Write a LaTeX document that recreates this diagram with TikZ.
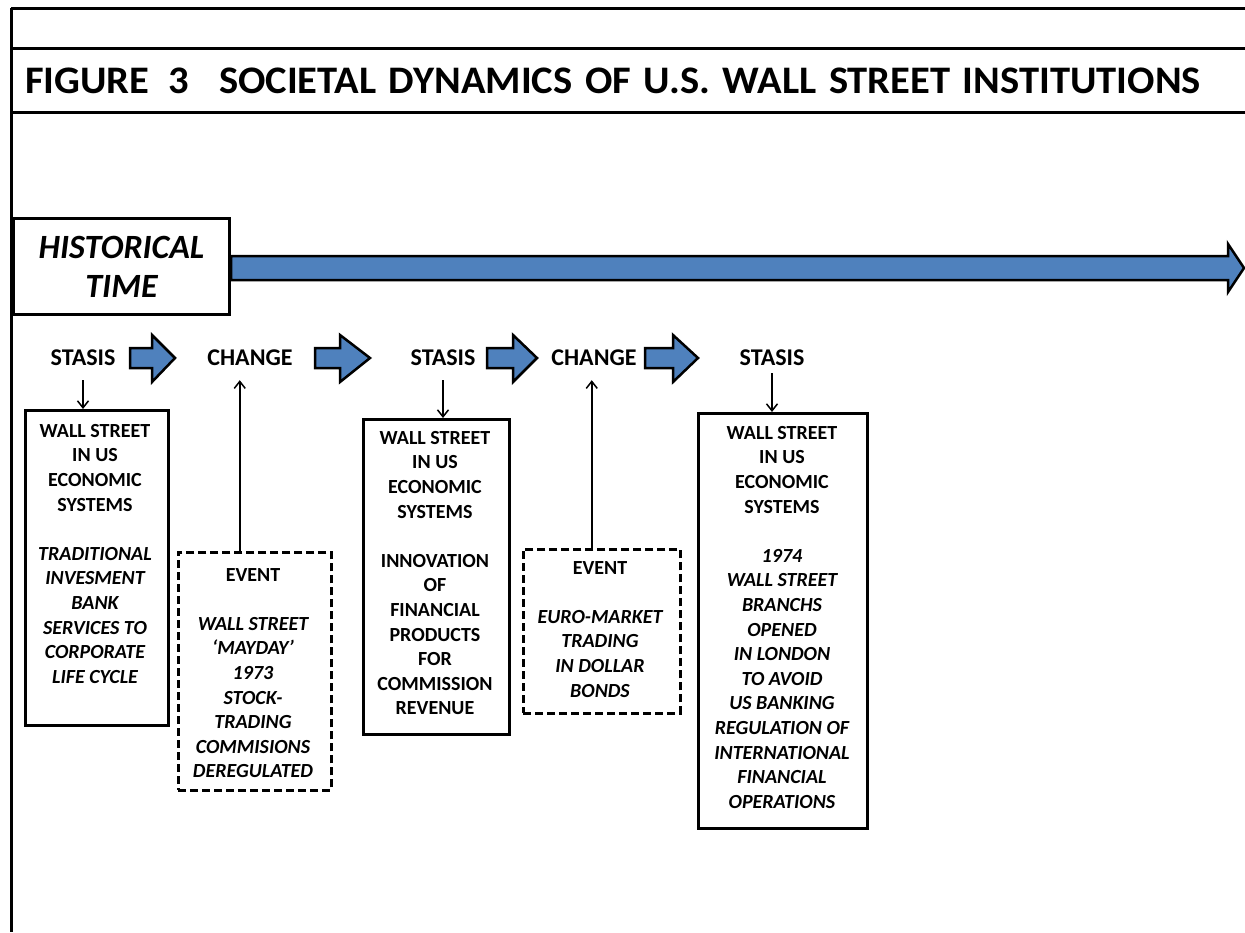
\documentclass[tikz,border=0pt]{standalone}
\usepackage{fontspec}
\setmainfont{Carlito}
\usetikzlibrary{arrows.meta}
\definecolor{ablue}{HTML}{4F81BD}
\begin{document}
\begin{tikzpicture}[x=1pt,y=-1pt,
  frame/.style={line width=3pt},
  barrow/.style={fill=ablue,draw=black,line width=2.5pt,line join=miter},
  lbl/.style={font=\fontsize{24}{28}\selectfont\bfseries,inner sep=0pt,minimum height=44pt},
  solidbox/.style={draw,line width=2.8pt,inner sep=0pt},
  evbox/.style={draw,line width=2.5pt,dash pattern=on 8pt off 4pt,inner sep=0pt},
  boxtext/.style={align=center,inner sep=0pt,font=\fontsize{20}{24.6}\selectfont\bfseries},
  thinarrow/.style={line width=1.5pt,-{Straight Barb[length=7pt,width=11pt]}}
]
\useasboundingbox (0,0) rectangle (1245,932);
% frame
\draw[frame] (11,8) -- (1245,8);
\draw[frame] (11,8) -- (11,932);
\draw[frame] (11,48) -- (1245,48);
\draw[frame] (11,112) -- (1245,112);
\node[anchor=west,inner sep=0pt,font=\fontsize{39}{46}\selectfont\bfseries] (title) at (25,81)
  {\scalebox{1.04}[1]{\spaceskip=12pt FIGURE\hspace{18pt}3\hspace{29pt}SOCIETAL DYNAMICS OF U.S. WALL STREET INSTITUTIONS}};
% historical time
\node[draw,line width=3pt,minimum width=216pt,minimum height=96pt,anchor=north west,inner sep=0pt,
  align=center,font=\fontsize{34}{39}\selectfont\bfseries\itshape] (ht) at (12,217) {HISTORICAL\\TIME};
\draw[barrow] (ht.east |- 0,256) -- (1228,256) -- (1228,244) -- (1244,268) -- (1228,292) -- (1228,280) -- (ht.east |- 0,280) -- cycle;
% labels
\node[lbl] (s1) at (83,358) {STASIS};
\node[lbl] (c1) at (250,358) {CHANGE};
\node[lbl] (s2) at (443,358) {STASIS};
\node[lbl] (c2) at (594,358) {CHANGE};
\node[lbl] (s3) at (772,358) {STASIS};
% block arrows
\draw[barrow] (130,348) -- (152,348) -- (152,335) -- (175,358) -- (152,382) -- (152,368) -- (130,368) -- cycle;
\draw[barrow] (315,348) -- (340,348) -- (340,335) -- (370,358) -- (340,382) -- (340,368) -- (315,368) -- cycle;
\draw[barrow] (487,348) -- (513,348) -- (513,335) -- (537,358) -- (513,382) -- (513,368) -- (487,368) -- cycle;
\draw[barrow] (645,348) -- (673,348) -- (673,335) -- (698,358) -- (673,382) -- (673,368) -- (645,368) -- cycle;
% boxes
\node[solidbox,minimum width=143pt,minimum height=315pt,anchor=north west] (b1) at (24,409) {};
\node[boxtext,anchor=north] (b1t) at (95,424) {WALL STREET\\IN US\\ECONOMIC\\SYSTEMS\\[24.6pt]
  \itshape TRADITIONAL\\\itshape INVESMENT\\\itshape BANK\\\itshape SERVICES TO\\\itshape CORPORATE\\\itshape LIFE CYCLE};
\node[evbox,minimum width=153pt,minimum height=238pt,anchor=north west] (e1) at (177,551) {};
\node[boxtext,anchor=north] (e1t) at (253,568) {EVENT\\[24.6pt]
  \itshape WALL STREET\\\itshape ‘MAYDAY’\\\itshape 1973\\\itshape STOCK-\\\itshape TRADING\\\itshape COMMISIONS\\\itshape DEREGULATED};
\node[solidbox,minimum width=146pt,minimum height=315pt,anchor=north west] (b2) at (362,418) {};
\node[boxtext,anchor=north] (b2t) at (435,431) {WALL STREET\\IN US\\ECONOMIC\\SYSTEMS\\[24.6pt]
  INNOVATION\\OF\\FINANCIAL\\PRODUCTS\\FOR\\COMMISSION\\REVENUE};
\node[evbox,minimum width=157pt,minimum height=164pt,anchor=north west] (e2) at (522,548) {};
\node[boxtext,anchor=north] (e2t) at (600,561) {EVENT\\[24.6pt]
  \itshape EURO-MARKET\\\itshape TRADING\\\itshape IN DOLLAR\\\itshape BONDS};
\node[solidbox,minimum width=169pt,minimum height=415pt,anchor=north west] (b3) at (697,412) {};
\node[boxtext,anchor=north] (b3t) at (782,426) {WALL STREET\\IN US\\ECONOMIC\\SYSTEMS\\[24.6pt]
  \itshape 1974\\\itshape WALL STREET\\\itshape BRANCHS\\\itshape OPENED\\\itshape IN LONDON\\\itshape TO AVOID\\\itshape US BANKING\\\itshape REGULATION OF\\\itshape INTERNATIONAL\\\itshape FINANCIAL\\\itshape OPERATIONS};
% thin arrows
\draw[thinarrow] (s1.south) -- (s1.south |- b1.north);
\draw[thinarrow] (s2.south) -- (s2.south |- b2.north);
\draw[thinarrow] ([yshift=7pt]s3.south) -- (s3.south |- b3.north);
\draw[thinarrow] ([xshift=-15pt]e1.north) -- ([xshift=-15pt]e1.north |- c1.south);
\draw[thinarrow] ([xshift=-10pt]e2.north) -- ([xshift=-10pt]e2.north |- c2.south);
\end{tikzpicture}
\end{document}
